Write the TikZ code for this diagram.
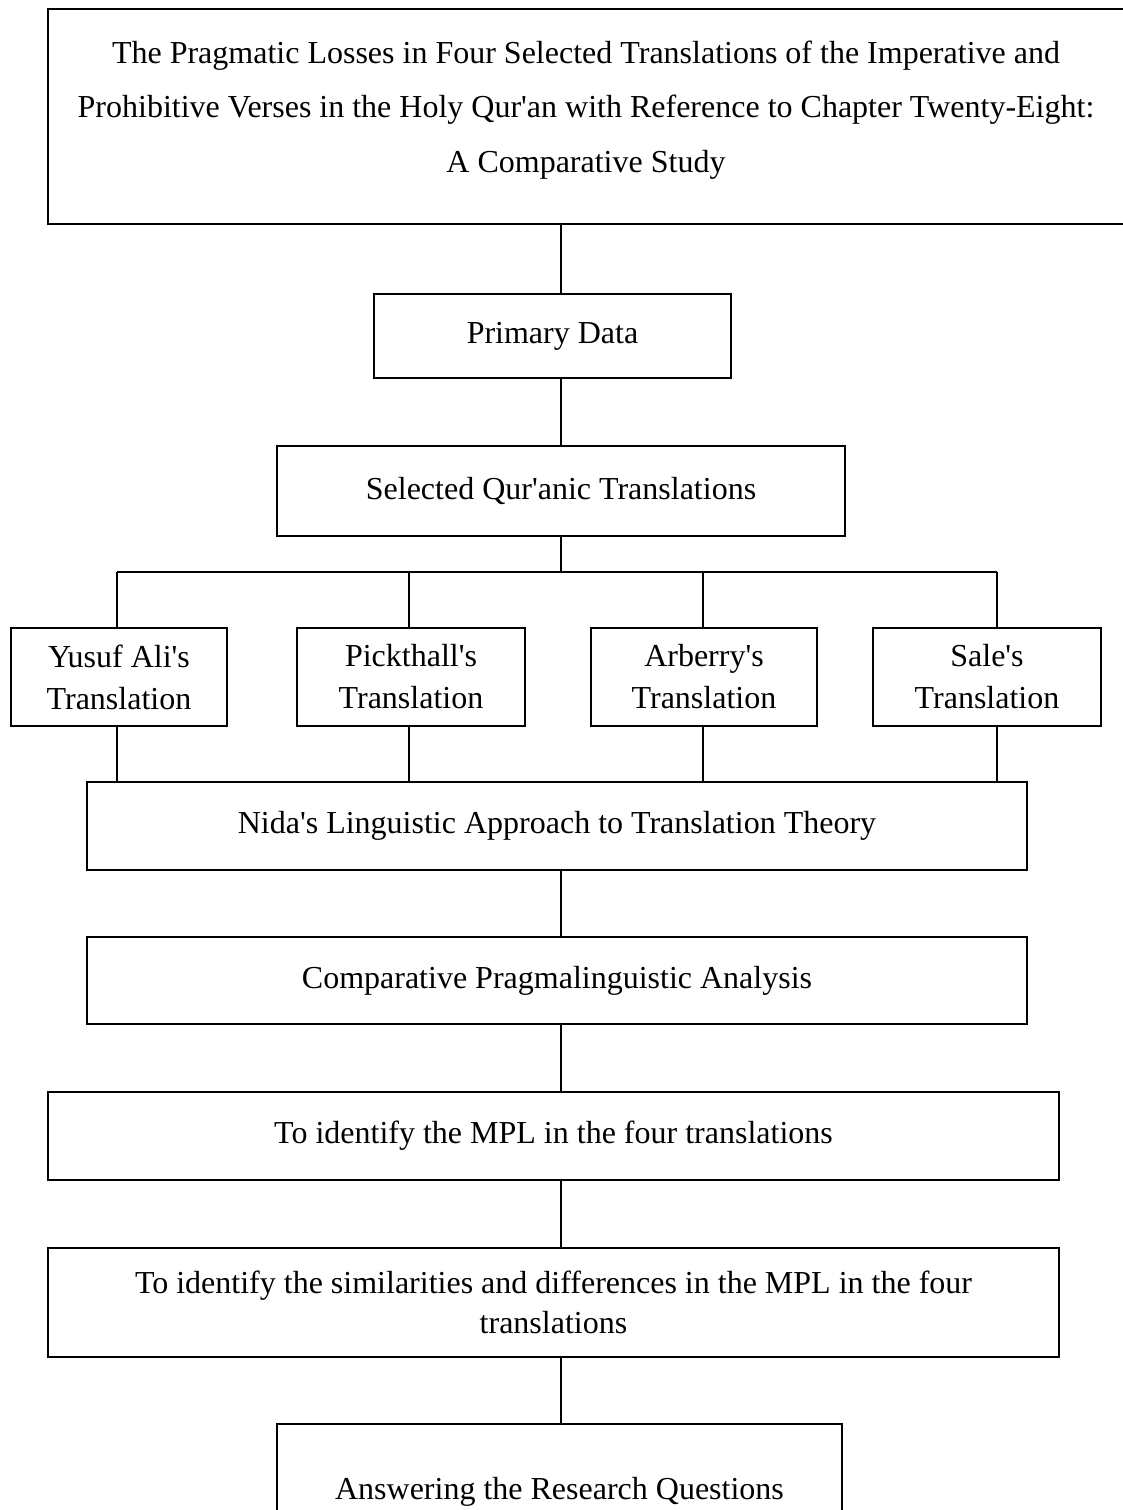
\documentclass[tikz,border=0pt]{standalone}
\usepackage{fontspec}
\setmainfont{Liberation Serif}[Ligatures=TeXOff]
\begin{document}
\begin{tikzpicture}[x=1pt,y=-1pt,
  box/.style={draw=black, line width=1.2pt, inner sep=0pt, align=center,
    font=\fontsize{32}{42}\selectfont},
  conn/.style={draw=black, line width=1.2pt},
  titlebox/.style={draw=black, line width=2.4pt, inner sep=0pt}]
\useasboundingbox (0,0) rectangle (1122,1510);
\fill[white] (0,0) rectangle (1122,1510);

% title
\node[titlebox, minimum width=1078pt, minimum height=215pt] (title) at (587,116.5) {};
\node[inner sep=0pt, align=center, font=\fontsize{32}{54.5}\selectfont] (titletext) at (586,110)
  {The Pragmatic Losses in Four Selected Translations of the Imperative and\\
   Prohibitive Verses in the Holy Qur'an with Reference to Chapter Twenty-Eight:\\
   A Comparative Study};

\node[box, minimum width=357pt, minimum height=84pt] (pd) at (552.5,336) {Primary Data};
\node[box, minimum width=568pt, minimum height=90pt] (sel) at (561,491) {Selected Qur'anic Translations};

\node[box, minimum width=216pt, minimum height=98pt] (yusuf) at (119,677) {Yusuf Ali's\\Translation};
\node[box, minimum width=228pt, minimum height=98pt] (pick) at (411,677) {Pickthall's\\Translation};
\node[box, minimum width=226pt, minimum height=98pt] (arb) at (704,677) {Arberry's\\Translation};
\node[box, minimum width=228pt, minimum height=98pt] (sale) at (987,677) {Sale's\\Translation};

\node[box, minimum width=940pt, minimum height=88pt] (nida) at (557,826) {Nida's Linguistic Approach to Translation Theory};
\node[box, minimum width=940pt, minimum height=87pt] (comp) at (557,980.5) {Comparative Pragmalinguistic Analysis};
\node[box, minimum width=1011pt, minimum height=88pt] (mpl) at (553.5,1136) {To identify the MPL in the four translations};
\node[box, minimum width=1011pt, minimum height=109pt, font=\fontsize{32}{40}\selectfont] (sim) at (553.5,1302.5)
  {To identify the similarities and differences in the MPL in the four\\translations};
\node[box, minimum width=565pt, minimum height=136pt] (ans) at (559.5,1492) {Answering the Research Questions};

% connector guides
\coordinate (spine) at (561,0);
\coordinate (bus) at (561,572);
\coordinate (c1) at (117,572);
\coordinate (c2) at (409,572);
\coordinate (c3) at (703,572);
\coordinate (c4) at (997,572);

\draw[conn] (title.south -| spine) -- (pd.north -| spine);
\draw[conn] (pd.south -| spine) -- (sel.north -| spine);
\draw[conn] (sel.south -| spine) -- (bus);
\draw[conn] (c1) -- (c4);
\foreach \c/\b in {c1/yusuf, c2/pick, c3/arb, c4/sale} {
  \draw[conn] (\c) -- (\b.north -| \c);
  \draw[conn] (\b.south -| \c) -- (nida.north -| \c);
}
\draw[conn] (nida.south -| spine) -- (comp.north -| spine);
\draw[conn] (comp.south -| spine) -- (mpl.north -| spine);
\draw[conn] (mpl.south -| spine) -- (sim.north -| spine);
\draw[conn] (sim.south -| spine) -- (ans.north -| spine);
\end{tikzpicture}
\end{document}
